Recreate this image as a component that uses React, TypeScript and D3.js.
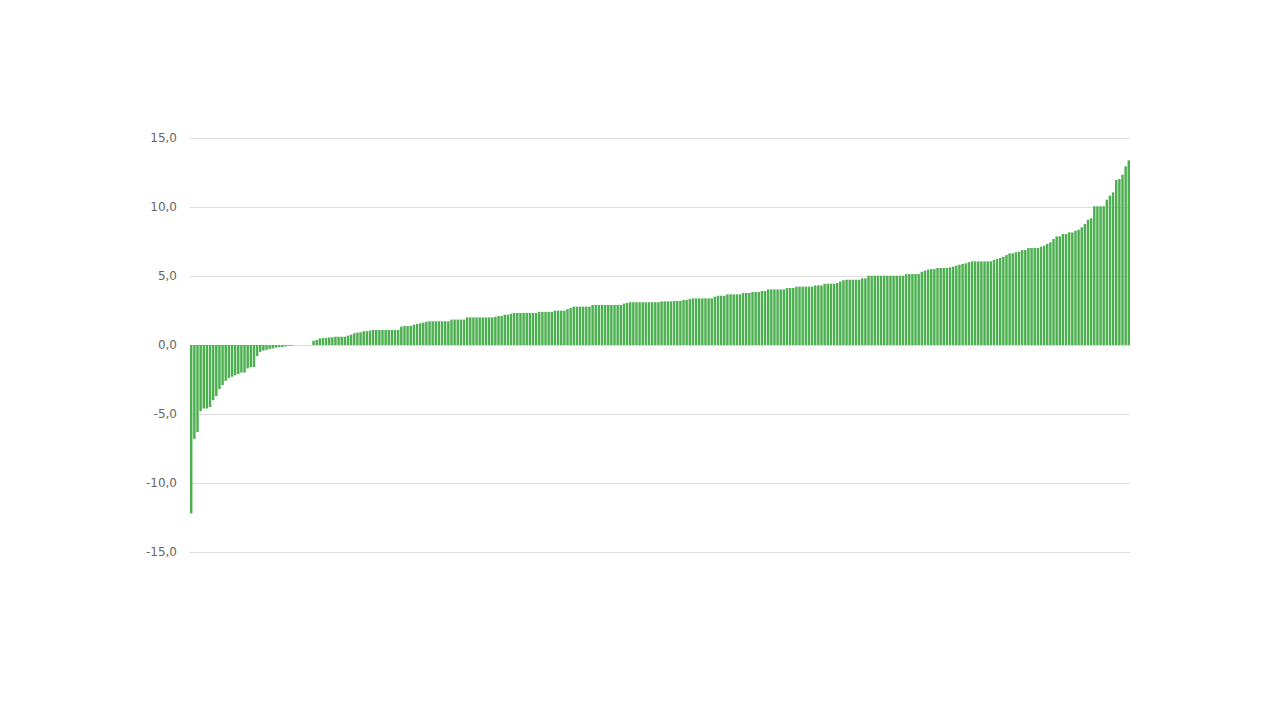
import React, { useEffect, useRef } from 'react';
import * as d3 from 'd3';

// sorted values left to right
const negatives = [
  -12.2, -6.8, -6.3, -4.8, -4.6, -4.6, -4.5, -4.0, -3.7, -3.2, -2.9, -2.6, -2.4, -2.3, -2.2, -2.1, -2.0,
  -2.0, -1.7, -1.6, -1.6, -0.8, -0.5, -0.4, -0.35, -0.3, -0.25, -0.2, -0.15, -0.15, -0.1, -0.05, -0.05,
];
const nearZero = [0, 0, 0, 0, 0, 0];
const lowValues = [
  0.31, 0.36, 0.48, 0.5, 0.5, 0.55, 0.55, 0.6, 0.6, 0.6, 0.6, 0.68, 0.75, 0.85, 0.9, 0.92, 1.0, 1.0, 1.04,
  1.09, 1.09, 1.09, 1.09, 1.09, 1.09, 1.09, 1.09, 1.09, 1.33, 1.38, 1.38, 1.38, 1.47, 1.52, 1.57, 1.62,
  1.69, 1.72, 1.72, 1.72, 1.72, 1.72, 1.72, 1.72, 1.84, 1.84, 1.84, 1.84, 1.84, 2.0, 2.0, 2.0, 2.0, 2.0,
  2.0, 2.0, 2.0,
];
const midValues = [
  2.0, 2.05, 2.1, 2.1, 2.2, 2.2, 2.27, 2.32, 2.32, 2.32, 2.32, 2.32, 2.32, 2.32, 2.32, 2.4, 2.4, 2.4, 2.4,
  2.4, 2.49, 2.49, 2.49, 2.49, 2.6, 2.68, 2.78, 2.78, 2.78, 2.78, 2.78, 2.78, 2.9, 2.9, 2.9, 2.9, 2.9, 2.9,
  2.9, 2.9, 2.9, 2.9, 3.0, 3.04, 3.1, 3.1, 3.1, 3.1, 3.1, 3.1, 3.1, 3.1, 3.1, 3.1, 3.16, 3.16, 3.16, 3.16,
];
const upperValues = [
  3.19, 3.19, 3.19, 3.26, 3.26, 3.33, 3.38, 3.38, 3.38, 3.38, 3.38, 3.38, 3.38, 3.5, 3.57, 3.57, 3.57,
  3.67, 3.67, 3.67, 3.67, 3.67, 3.77, 3.77, 3.77, 3.84, 3.84, 3.84, 3.91, 3.91, 4.03, 4.03, 4.03, 4.03,
  4.03, 4.03, 4.13, 4.13, 4.13, 4.23, 4.23, 4.23, 4.23, 4.23, 4.23, 4.32, 4.32, 4.32, 4.44, 4.44, 4.44,
  4.44, 4.49, 4.6, 4.69, 4.73, 4.73,
];
const highValues = [
  4.73, 4.73, 4.73, 4.83, 4.83, 5.02, 5.02, 5.02, 5.02, 5.02, 5.02, 5.02, 5.02, 5.02, 5.02, 5.02, 5.02,
  5.14, 5.14, 5.14, 5.14, 5.14, 5.31, 5.39, 5.46, 5.5, 5.5, 5.58, 5.58, 5.58, 5.58, 5.63, 5.68, 5.75, 5.82,
  5.87, 5.92, 6.0, 6.06, 6.06, 6.06, 6.06, 6.06, 6.06, 6.06, 6.16, 6.23, 6.3, 6.4, 6.52, 6.64,
];
const topValues = [
  6.64, 6.72, 6.76, 6.88, 6.88, 7.03, 7.03, 7.03, 7.03, 7.12, 7.19, 7.32, 7.44, 7.68, 7.87, 7.87, 8.04,
  8.04, 8.16, 8.16, 8.28, 8.35, 8.53, 8.77, 9.08, 9.18, 10.05, 10.05, 10.05, 10.05, 10.53, 10.82, 11.06,
  11.96, 12.03, 12.34, 12.95, 13.38,
];
const yTicks = [15, 10, 5, 0, -5, -10, -15];

const values = [...negatives, ...nearZero, ...lowValues, ...midValues, ...upperValues, ...highValues, ...topValues];

export default function App() {
  const ref = useRef<SVGSVGElement>(null);

  useEffect(() => {
    const svg = d3.select(ref.current);
    svg.selectAll('*').remove();

    const left = 190;
    const right = 1130;

    const x = d3
      .scaleBand<number>()
      .domain(values.map((_, i) => i))
      .range([left, right])
      .paddingInner(0.22);

    const y = d3.scaleLinear().domain([-15, 15]).range([552, 138]);

    // grid + labels
    const grid = svg.append('g');
    grid
      .selectAll('line')
      .data(yTicks)
      .join('line')
      .attr('x1', left)
      .attr('x2', right)
      .attr('y1', (d) => y(d) + 0.5)
      .attr('y2', (d) => y(d) + 0.5)
      .attr('stroke', '#dddddd')
      .attr('stroke-width', 1);

    grid
      .selectAll('text')
      .data(yTicks)
      .join('text')
      .attr('x', 177)
      .attr('y', (d) => y(d))
      .attr('dy', '0.35em')
      .attr('text-anchor', 'end')
      .attr('fill', '#666666')
      .style('font-family', '"DejaVu Sans", sans-serif')
      .style('font-size', '12px')
      .text((d) => d3.format('.1f')(d).replace('.', ',').replace('−', '-'));

    svg
      .append('g')
      .attr('fill', '#4caf50')
      .selectAll('rect')
      .data(values)
      .join('rect')
      .attr('x', (_, i) => x(i) as number)
      .attr('width', x.bandwidth())
      .attr('y', (d) => y(Math.max(0, d)))
      .attr('height', (d) => Math.abs(y(d) - y(0)));
  }, []);

  return (
    <svg
      ref={ref}
      width={1280}
      height={720}
      style={{ position: 'absolute', left: 0, top: 0, background: '#fff' }}
    />
  );
}
